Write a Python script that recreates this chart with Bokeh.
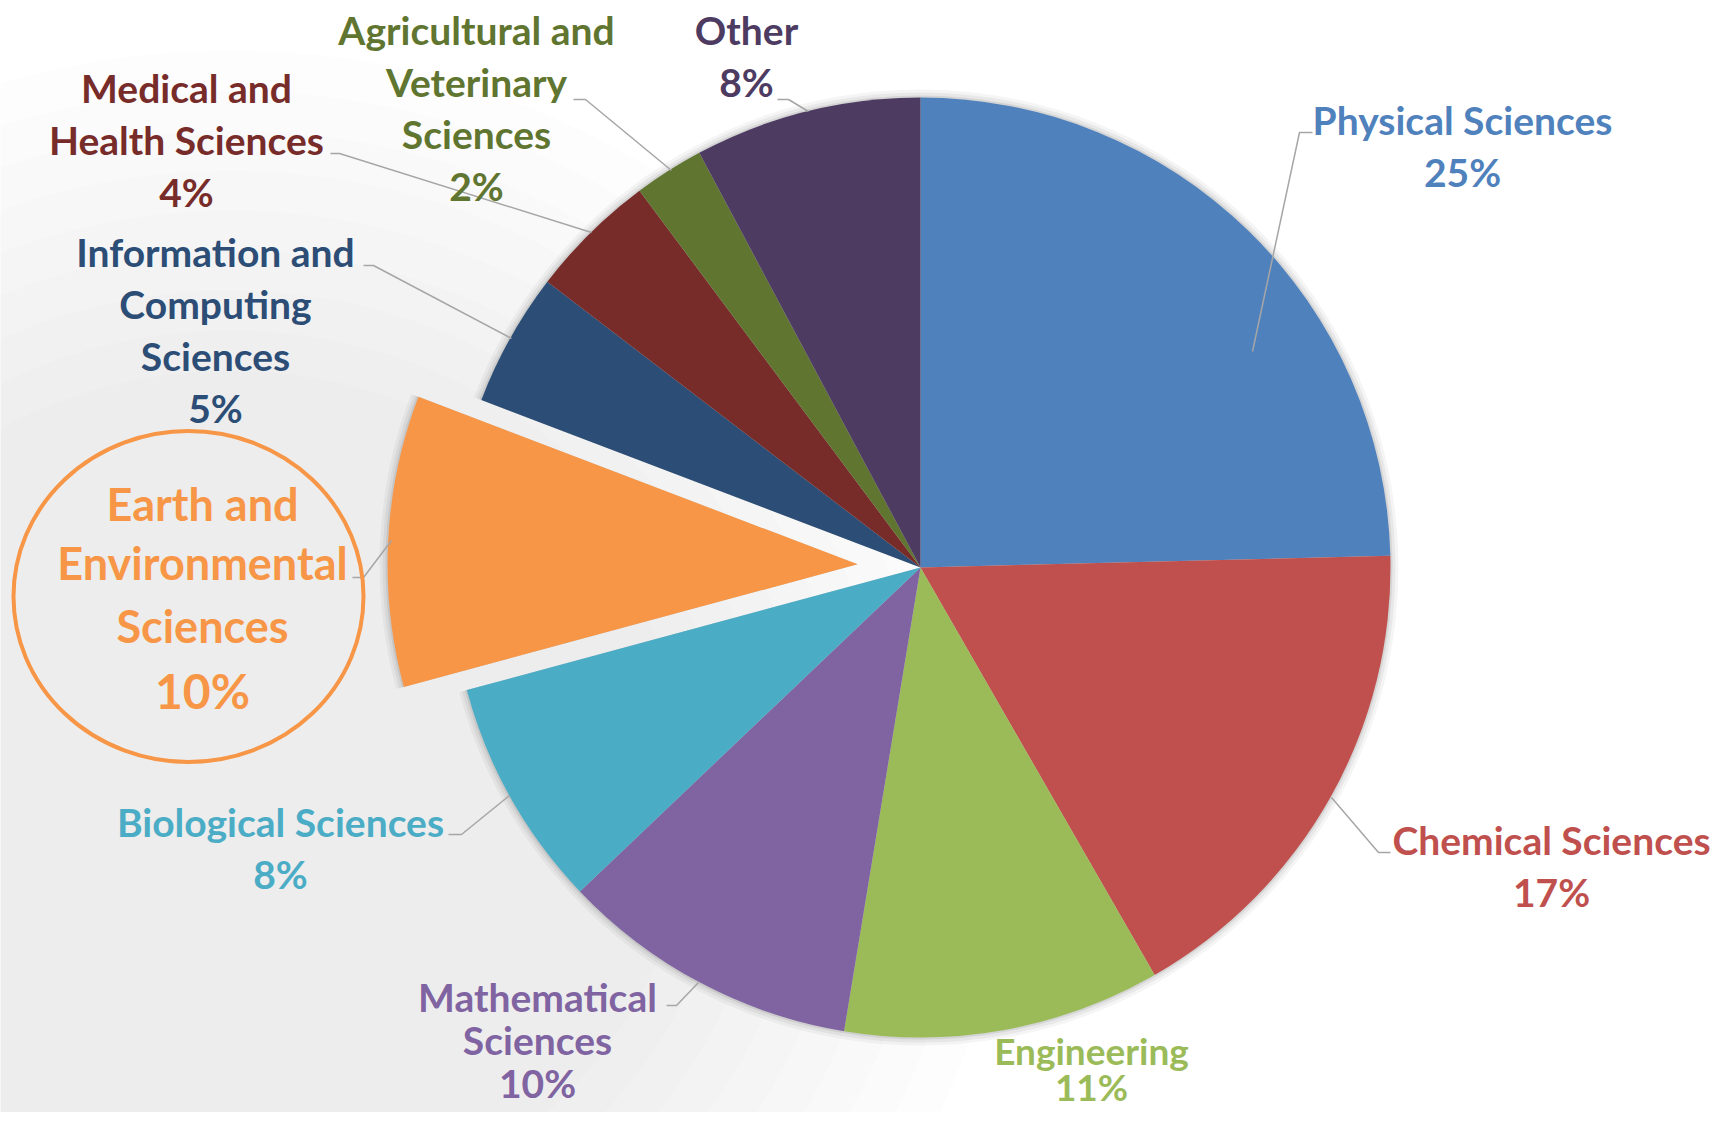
import numpy as np
from bokeh.plotting import figure
from bokeh.models import ColumnDataSource, Range1d
from bokeh.core.properties import value
from bokeh.embed import file_html
from bokeh.resources import INLINE

# ---------------- data ----------------
categories = [
    "Physical Sciences",
    "Chemical Sciences",
    "Engineering",
    "Mathematical Sciences",
    "Biological Sciences",
    "Earth and Environmental Sciences",
    "Information and Computing Sciences",
    "Medical and Health Sciences",
    "Agricultural and Veterinary Sciences",
    "Other",
]
shares = [24.6, 17.1, 10.9, 10.3, 7.9, 10.0, 4.6, 4.4, 2.4, 7.8]
colors = ["#4F81BD", "#C0504D", "#9BBB59", "#8064A2", "#4BACC6",
          "#F79646", "#2C4D75", "#772C2A", "#5F7530", "#4D3B62"]
highlight = "Earth and Environmental Sciences"

# ---------------- layout (reference pixel coords) ----------------
W, H = 1713, 1112
def rx(x):
    return x
def ry(y):
    return H - y

CX, CY, R = rx(920), ry(567), 470
EXPLODE = 63
FONT = "Lato"

label_lines = {
    "Physical Sciences": ["Physical Sciences"],
    "Chemical Sciences": ["Chemical Sciences"],
    "Engineering": ["Engineering"],
    "Mathematical Sciences": ["Mathematical", "Sciences"],
    "Biological Sciences": ["Biological Sciences"],
    "Earth and Environmental Sciences": ["Earth and", "Environmental", "Sciences"],
    "Information and Computing Sciences": ["Information and", "Computing", "Sciences"],
    "Medical and Health Sciences": ["Medical and", "Health Sciences"],
    "Agricultural and Veterinary Sciences": ["Agricultural and", "Veterinary", "Sciences"],
    "Other": ["Other"],
}
label_anchor = {  # centre x, first-line centre y, line step, font size
    "Physical Sciences": (1462, 119, 52, "39px"),
    "Chemical Sciences": (1551, 839, 52, "39px"),
    "Engineering": (1091, 1050, 36, "37px"),
    "Mathematical Sciences": (537, 996, 43, "39px"),
    "Biological Sciences": (280, 821, 52, "39px"),
    "Earth and Environmental Sciences": (202, 503, 0, "45px"),
    "Information and Computing Sciences": (215, 251, 52, "39px"),
    "Medical and Health Sciences": (186, 87, 52, "39px"),
    "Agricultural and Veterinary Sciences": (476, 29, 52, "39px"),
    "Other": (746, 29, 52, "39px"),
}
big_steps = [0, 59, 122, 187]
BIG_PCT_SIZE = "48px"

leaders = {
    "Physical Sciences": [(1312, 132), (1299, 132), (1252, 351)],
    "Chemical Sciences": [(1390, 852), (1378, 852), (1331, 797)],
    "Mathematical Sciences": [(666, 1005), (676, 1005), (698, 982)],
    "Biological Sciences": [(448, 834), (461, 834), (509, 795)],
    "Earth and Environmental Sciences": [(352, 577), (363, 577), (391, 540)],
    "Information and Computing Sciences": [(363, 265), (373, 265), (511, 338)],
    "Medical and Health Sciences": [(330, 153), (339, 153), (591, 232)],
    "Agricultural and Veterinary Sciences": [(573, 99), (585, 99), (671, 170)],
    "Other": [(777, 99), (788, 99), (808, 111)],
}

# ---------------- geometry from data ----------------
vals = np.array(shares, dtype=float)
frac = vals / vals.sum()
cum = np.concatenate([[0.0], np.cumsum(frac)])
start = np.pi / 2 - 2 * np.pi * cum[:-1]
end = np.pi / 2 - 2 * np.pi * cum[1:]
mid = (start + end) / 2
explode = np.array([EXPLODE if c == highlight else 0 for c in categories])
wx = CX + explode * np.cos(mid)
wy = CY + explode * np.sin(mid)

src = ColumnDataSource(dict(x=wx, y=wy, start=start, end=end, color=colors,
                            name=categories))

p = figure(width=W, height=H, output_backend="svg", toolbar_location=None,
           x_range=Range1d(0, W), y_range=Range1d(0, H),
           x_axis_type=None, y_axis_type=None, min_border=0,
           background_fill_color="white", border_fill_color="white")
p.grid.visible = False
p.outline_line_color = None

# soft watermark-like backdrop on the left
for k in range(9):
    p.ellipse(x=rx(230), y=ry(800), width=1560 - 80 * k, height=1500 - 80 * k,
              fill_color="#D4D4D4", fill_alpha=0.045, line_color=None)

# soft shadows
for extra, alpha in [(8, 0.04), (5, 0.05), (2, 0.08)]:
    p.wedge(x="x", y="y", radius=R + extra, start_angle="start", end_angle="end",
            direction="clock", source=src, fill_color="black", fill_alpha=alpha,
            line_color=None)

p.wedge(x="x", y="y", radius=R, start_angle="start", end_angle="end",
        direction="clock", source=src, fill_color="color", line_color=None)

# leader lines
lx, ly = [], []
for c in categories:
    if c in leaders:
        pts = leaders[c]
        lx.append([rx(a) for a, b in pts])
        ly.append([ry(b) for a, b in pts])
p.multi_line(xs=lx, ys=ly, line_color="#A6A6A6", line_width=1.5)

# labels
tx, ty, tt, tc, ts = [], [], [], [], []
for c, v, col in zip(categories, vals, colors):
    ax, ay, step, fsize = label_anchor[c]
    lines = label_lines[c] + [f"{int(round(v))}%"]
    for i, t in enumerate(lines):
        if c == highlight:
            y = ay + big_steps[i]
            size = BIG_PCT_SIZE if i == len(lines) - 1 else fsize
        else:
            y = ay + i * step
            size = fsize
        tx.append(rx(ax)); ty.append(ry(y)); tt.append(t); tc.append(col); ts.append(size)
lsrc = ColumnDataSource(dict(x=tx, y=ty, text=tt, color=tc, size=ts))
p.text(x="x", y="y", text="text", source=lsrc, text_color="color",
       text_font_size="size", text_font=value(FONT), text_font_style="bold",
       text_align="center", text_baseline="middle")

# highlight circle
p.ellipse(x=rx(188), y=ry(596), width=350, height=331, fill_color=None,
          line_color="#F79646", line_width=4)

open("out.html", "w").write(file_html(p, INLINE))
